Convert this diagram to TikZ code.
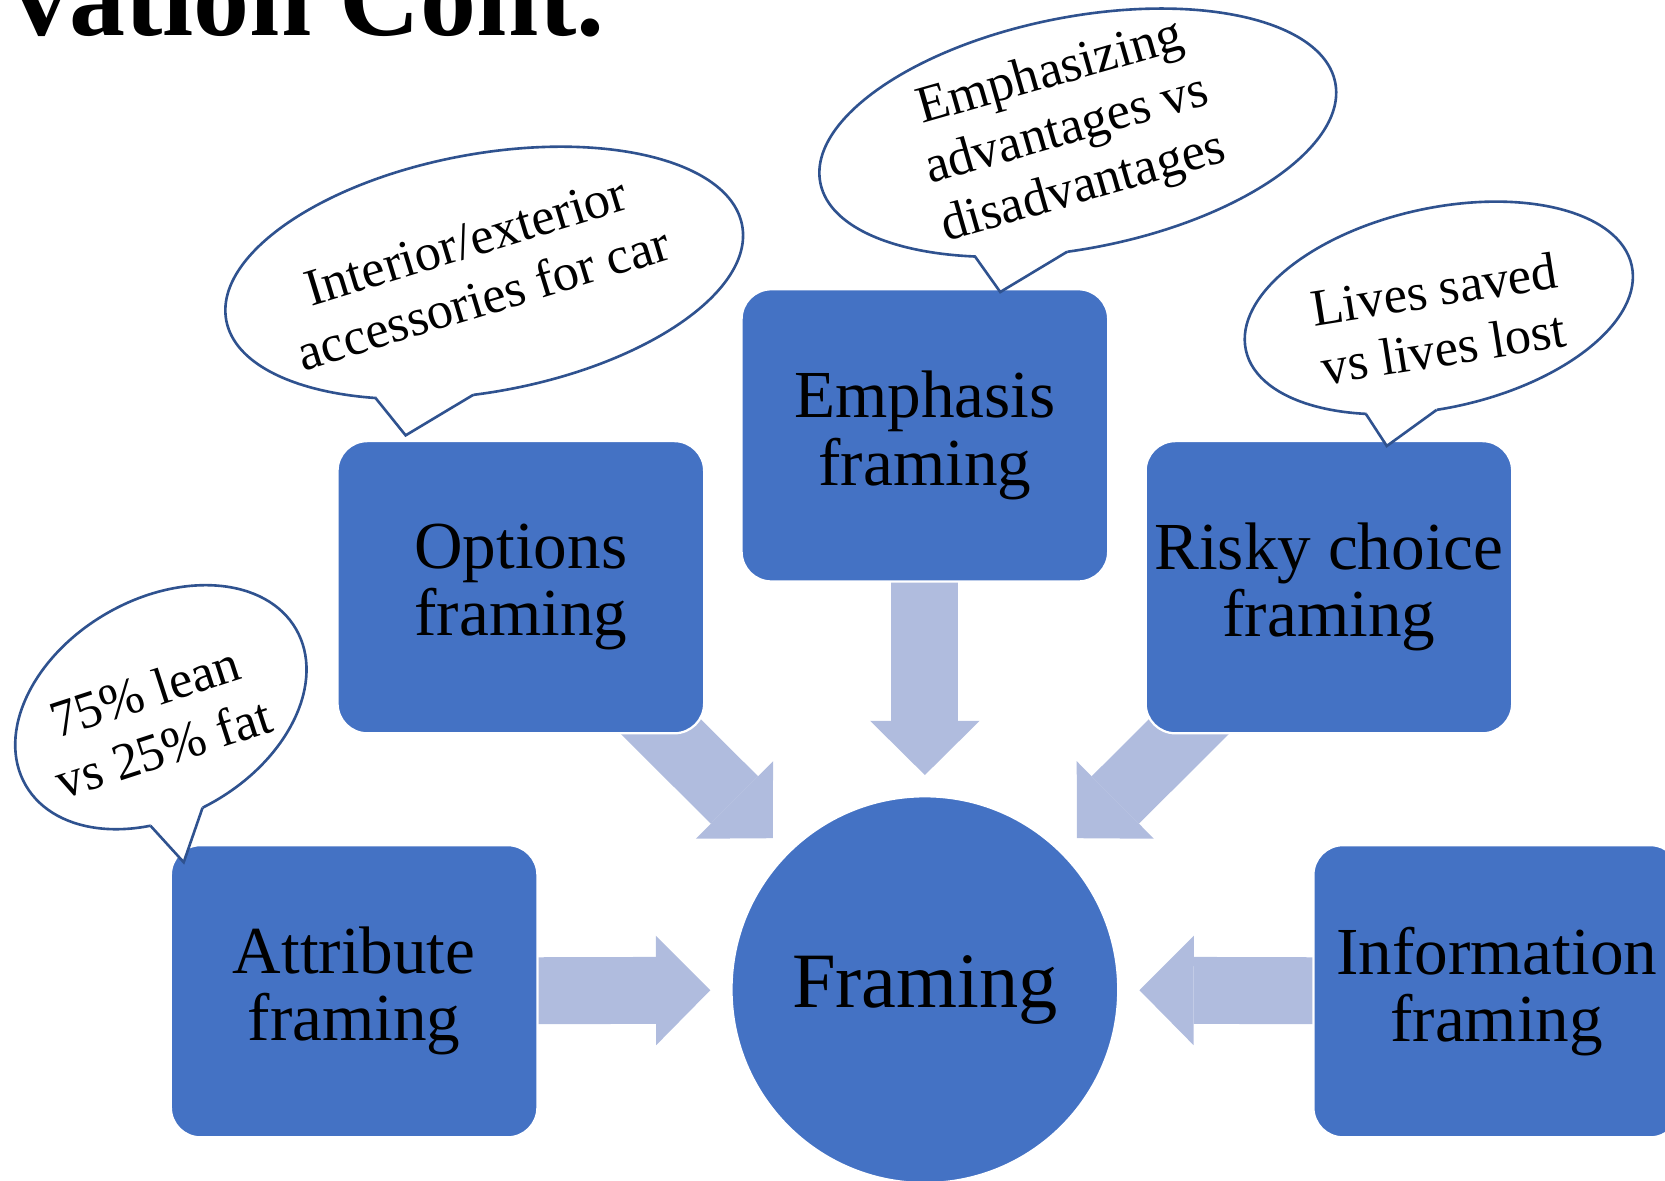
\documentclass[tikz,border=0pt]{standalone}
\usepackage{fontspec}
\setmainfont{Liberation Serif}
\usetikzlibrary{arrows.meta,calc,intersections}
\pgfdeclarelayer{background}
\pgfsetlayers{background,main}
\definecolor{boxblue}{RGB}{68,114,196}
\definecolor{arrowblue}{RGB}{176,188,222}
\definecolor{callborder}{RGB}{47,82,143}

% #1 name, #2 center, #3 a, #4 b, #5 rotation, #6 base-left guess, #7 tip, #8 base-right guess
\newcommand{\speechbubble}[8]{%
  \coordinate (#1c) at #2;
  \coordinate (#1t) at #7;
  \filldraw[bubble, name path=#1e] (#1c) ellipse[x radius=#3, y radius=#4, rotate=#5];
  \path[name path=#1la] (#1c) -- ($(#1c)!2!#6$);
  \path[name path=#1lb] (#1c) -- ($(#1c)!2!#8$);
  \path[name intersections={of=#1e and #1la, by=#1L}];
  \path[name intersections={of=#1e and #1lb, by=#1R}];
  \fill[white] (#1L) -- (#1t) -- (#1R) -- ($(#1R)!0.07!(#1c)$) -- ($(#1L)!0.07!(#1c)$) -- cycle;
  \draw[draw=callborder, line width=0.7pt, line join=miter] (#1L) -- (#1t) -- (#1R);
}

\begin{document}
\begin{tikzpicture}[x=0.01cm,y=-0.01cm,
  framebox/.style={rectangle, rounded corners=0.28cm, fill=boxblue, draw=white, line width=0.6pt,
    minimum width=3.45cm, minimum height=2.75cm, inner sep=0pt, align=center,
    font=\fontsize{18}{18}\selectfont, text=black},
  hub/.style={circle, fill=boxblue, draw=white, line width=0.6pt, minimum size=3.64cm,
    inner sep=0pt, font=\fontsize{21}{24}\selectfont, text=black},
  blockarrow/.style={draw=arrowblue, line width=0.63cm,
    -{Triangle[length=0.51cm, width=1.03cm, line width=0pt]}, shorten >=2.02cm},
  bubble/.style={draw=callborder, fill=white, line width=0.7pt},
  bubbletext/.style={align=center, font=\fontsize{14}{16}\selectfont, inner sep=0pt, text=black},
]
\clip (0,0) rectangle (1568,1112);
\useasboundingbox (0,0) rectangle (1568,1112);

% title fragment
\node[anchor=base east, inner sep=0pt, font=\fontsize{30}{30}\selectfont\bfseries] (title) at (570,33) {vation Cont.};

% boxes and hub
\node[framebox] (attr) at (333.5,933.5) {Attribute\\framing};
\node[framebox] (opt) at (490.5,553) {Options\\framing};
\node[framebox] (emph) at (871,410) {Emphasis\\framing};
\node[framebox] (risky) at (1251.5,553) {Risky choice\\framing};
\node[framebox] (info) at (1409.5,933.5) {Information\\framing};
\node[hub] (hub) at (871,932) {Framing};

% block arrows behind
\begin{pgfonlayer}{background}
\draw[blockarrow] (attr.center) -- (hub.center);
\draw[blockarrow] (opt.center) -- (hub.center);
\draw[blockarrow] (emph.center) -- (hub.center);
\draw[blockarrow] (risky.center) -- (hub.center);
\draw[blockarrow] (info.center) -- (hub.center);
\end{pgfonlayer}

% callouts
\speechbubble{ca}{(151.5,666)}{147}{102}{30}{(141,785)}{(173,812)}{(193,766)}
\node[bubbletext, rotate=18] (ta) at (145,678) {75\% lean\\vs 25\% fat};

\speechbubble{cb}{(456,257)}{247}{112}{10.4}{(356,372)}{(382,410)}{(446,368)}
\node[bubbletext, rotate=17] (tb) at (447,254) {Interior/exterior\\accessories for car};

\speechbubble{cc}{(1015,125)}{247}{109}{11}{(918,242)}{(942,275)}{(1005,237)}
\node[bubbletext, rotate=16] (tc) at (1005,124) {Emphasizing\\advantages vs\\disadvantages};

\speechbubble{cd}{(1355,290)}{186}{94}{12.4}{(1286,390)}{(1306,420)}{(1353,385)}
\node[bubbletext, rotate=9] (td) at (1355,300) {Lives saved\\vs lives lost};
\end{tikzpicture}
\end{document}
